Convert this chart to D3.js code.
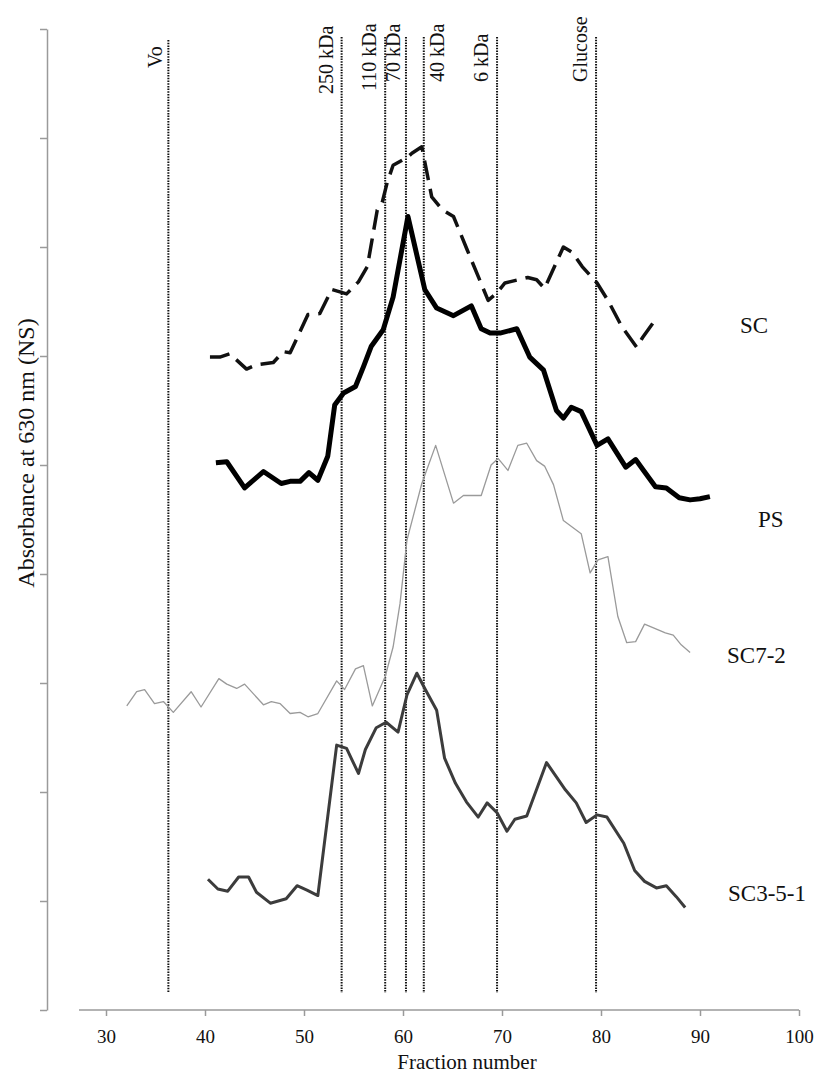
<!DOCTYPE html>
<html><head><meta charset="utf-8">
<script src="https://cdn.jsdelivr.net/npm/d3@7"></script>
<style>html,body{margin:0;padding:0;background:#fff;}svg{display:block;}</style>
</head><body>
<svg id="c" width="819" height="1073"></svg>
<script>
// ---------- data ----------
const xTicks = [30, 40, 50, 60, 70, 80, 90, 100];
const yTicks = [0, 1, 2, 3, 4, 5, 6, 7, 8, 9];

const markerNames = ["Vo", "250 kDa", "110 kDa", "70 kDa", "40 kDa", "6 kDa", "Glucose"];
const markerFractions = [36.3, 53.8, 58.2, 60.3, 62.1, 69.5, 79.5];

const seriesNames = ["SC", "PS", "SC7-2", "SC3-5-1"];

const scFraction = [40.5, 41.5, 42.5, 44.2, 45.2, 46.9, 47.9, 48.6, 50.4, 51.6, 52.8, 54.3, 55.5, 56.4, 57.4, 57.9, 58.4, 59.0, 60.4, 60.9, 61.9, 62.9, 64.0, 65.1, 66.5, 68.6, 69.5, 70.3, 72.6, 73.5, 74.3, 76.2, 77.1, 78.1, 79.6, 80.7, 82.1, 83.6, 84.2, 85.7];
const scValue = [5.99, 5.99, 6.02, 5.88, 5.92, 5.94, 6.04, 6.03, 6.38, 6.39, 6.61, 6.57, 6.68, 6.82, 7.34, 7.41, 7.59, 7.75, 7.82, 7.86, 7.92, 7.46, 7.34, 7.28, 6.97, 6.51, 6.58, 6.67, 6.72, 6.70, 6.62, 7.00, 6.95, 6.82, 6.67, 6.51, 6.27, 6.08, 6.17, 6.36];

const psFraction = [41.1, 42.2, 44.0, 45.9, 47.7, 48.6, 49.6, 50.5, 51.4, 52.4, 53.1, 54.0, 55.2, 56.0, 56.8, 58.0, 59.0, 60.5, 62.2, 63.4, 65.1, 66.9, 67.9, 68.8, 69.8, 71.5, 72.8, 74.2, 75.5, 76.2, 77.0, 78.0, 79.6, 80.7, 82.5, 83.5, 84.3, 85.5, 86.6, 87.9, 89.0, 90.0, 91.0];
const psValue = [5.02, 5.03, 4.79, 4.94, 4.83, 4.85, 4.85, 4.93, 4.86, 5.08, 5.55, 5.66, 5.72, 5.90, 6.09, 6.24, 6.54, 7.28, 6.61, 6.44, 6.37, 6.46, 6.25, 6.21, 6.21, 6.25, 5.99, 5.87, 5.50, 5.43, 5.53, 5.49, 5.18, 5.24, 4.98, 5.05, 4.95, 4.80, 4.79, 4.70, 4.68, 4.69, 4.71];

const sc72Fraction = [32.1, 33.1, 33.9, 34.9, 35.8, 36.8, 38.6, 39.6, 41.4, 42.2, 43.2, 44.0, 45.9, 46.7, 47.6, 48.6, 49.6, 50.4, 51.4, 53.3, 54.1, 55.2, 56.0, 56.9, 58.2, 59.0, 59.7, 60.4, 61.9, 63.3, 65.1, 66.1, 67.9, 68.9, 69.6, 70.6, 71.6, 72.5, 73.5, 74.3, 75.2, 76.2, 78.0, 78.9, 79.7, 80.7, 81.7, 82.6, 83.5, 84.4, 86.5, 87.3, 88.1, 89.0];
const sc72Value = [2.79, 2.92, 2.94, 2.81, 2.83, 2.73, 2.92, 2.78, 3.04, 2.99, 2.95, 2.99, 2.80, 2.83, 2.81, 2.72, 2.73, 2.69, 2.72, 3.02, 2.94, 3.13, 3.16, 2.79, 3.06, 3.33, 3.73, 4.31, 4.83, 5.18, 4.65, 4.72, 4.72, 5.00, 5.06, 4.95, 5.18, 5.20, 5.04, 4.99, 4.82, 4.49, 4.37, 4.01, 4.13, 4.16, 3.61, 3.37, 3.38, 3.54, 3.46, 3.44, 3.35, 3.28];

const sc351Fraction = [40.3, 41.3, 42.3, 43.4, 44.4, 45.2, 46.6, 48.2, 49.3, 50.3, 51.4, 53.3, 54.3, 55.5, 56.2, 57.3, 58.3, 59.5, 60.4, 61.4, 62.2, 63.4, 64.2, 65.3, 66.4, 67.6, 68.5, 69.5, 70.5, 71.3, 72.5, 74.5, 76.4, 77.5, 78.5, 79.6, 80.6, 82.3, 83.4, 84.4, 85.6, 86.6, 87.6, 88.5];
const sc351Value = [1.20, 1.11, 1.09, 1.22, 1.22, 1.08, 0.98, 1.02, 1.14, 1.10, 1.05, 2.43, 2.40, 2.17, 2.39, 2.59, 2.64, 2.55, 2.89, 3.09, 2.95, 2.75, 2.31, 2.08, 1.91, 1.77, 1.90, 1.81, 1.64, 1.75, 1.78, 2.27, 2.02, 1.90, 1.72, 1.79, 1.77, 1.53, 1.28, 1.18, 1.12, 1.14, 1.04, 0.94];

// ---------- layout / style ----------
const FONT = "'Liberation Serif','Times New Roman',serif";
const svg = d3.select("#c");
const x = d3.scaleLinear().domain([30, 100]).range([106, 799]);
const y = d3.scaleLinear().domain([0, 9]).range([1010, 29]);
const axisColor = "#9a9a9a";

// y axis (no labels, outward ticks)
const yAxisG = svg.append("g").attr("transform", "translate(47,0)")
  .call(d3.axisLeft(y).tickValues(yTicks).tickSize(7).tickSizeOuter(0).tickFormat(""));
yAxisG.select(".domain").attr("stroke", axisColor).attr("stroke-width", 1.5);
yAxisG.selectAll(".tick line").attr("stroke", axisColor).attr("stroke-width", 1.5);

// x axis
const xAxisG = svg.append("g").attr("transform", "translate(0,1010)")
  .call(d3.axisBottom(x).tickValues(xTicks).tickSize(6).tickSizeOuter(0).tickPadding(14));
xAxisG.select(".domain").attr("d", `M79,0H${x(100)}`).attr("stroke", axisColor).attr("stroke-width", 1.5);
xAxisG.selectAll(".tick line").attr("stroke", axisColor).attr("stroke-width", 1.5);
xAxisG.selectAll(".tick text").attr("fill", "#111").style("font-family", FONT).style("font-size", "19px");

// axis titles
svg.append("text").attr("x", 467).attr("y", 1069).attr("text-anchor", "middle")
  .style("font-family", FONT).style("font-size", "21px").attr("fill", "#111").text("Fraction number");
svg.append("text").attr("transform", "translate(34,453) rotate(-90)").attr("text-anchor", "middle")
  .style("font-family", FONT).style("font-size", "24px").attr("fill", "#111").text("Absorbance at 630 nm (NS)");

// marker lines
const markerLabelDx = [-6, -9, -9, -6, 20, -9, -9];
const markerLabelY = [68, 94, 91, 82, 82, 82, 82];
const markerTop = [40, 37, 37, 37, 37, 37, 37];
const mk = svg.append("g");
markerFractions.forEach((f, i) => {
  mk.append("line").attr("x1", x(f)).attr("x2", x(f)).attr("y1", markerTop[i]).attr("y2", 993)
    .attr("stroke", "#111").attr("stroke-width", 2).attr("stroke-dasharray", "1.5,1.2");
  mk.append("text").attr("transform", `translate(${x(f) + markerLabelDx[i]},${markerLabelY[i]}) rotate(-90)`)
    .attr("text-anchor", "start").style("font-family", FONT).style("font-size", "20px").attr("fill", "#111")
    .text(markerNames[i]);
});

// series
const line = d3.line().x(d => x(d[0])).y(d => y(d[1]));
const zipper = (a, b) => a.map((v, i) => [v, b[i]]);
const series = [
  {f: scFraction, v: scValue, stroke: "#111", w: 3.5, dash: "20,9"},
  {f: psFraction, v: psValue, stroke: "#000", w: 5, dash: null},
  {f: sc72Fraction, v: sc72Value, stroke: "#9a9a9a", w: 1.3, dash: null},
  {f: sc351Fraction, v: sc351Value, stroke: "#3c3c3c", w: 3, dash: null}
];
series.forEach(s => {
  const p = svg.append("path").datum(zipper(s.f, s.v)).attr("d", line)
    .attr("fill", "none").attr("stroke", s.stroke).attr("stroke-width", s.w)
    .attr("stroke-linejoin", "round").attr("stroke-linecap", "butt");
  if (s.dash) p.attr("stroke-dasharray", s.dash);
});

// series labels
const labelX = [740, 758, 727, 728];
const labelY = [333, 527, 663, 901];
seriesNames.forEach((n, i) => {
  svg.append("text").attr("x", labelX[i]).attr("y", labelY[i])
    .style("font-family", FONT).style("font-size", "23px").attr("fill", "#111").text(n);
});
</script>
</body></html>
